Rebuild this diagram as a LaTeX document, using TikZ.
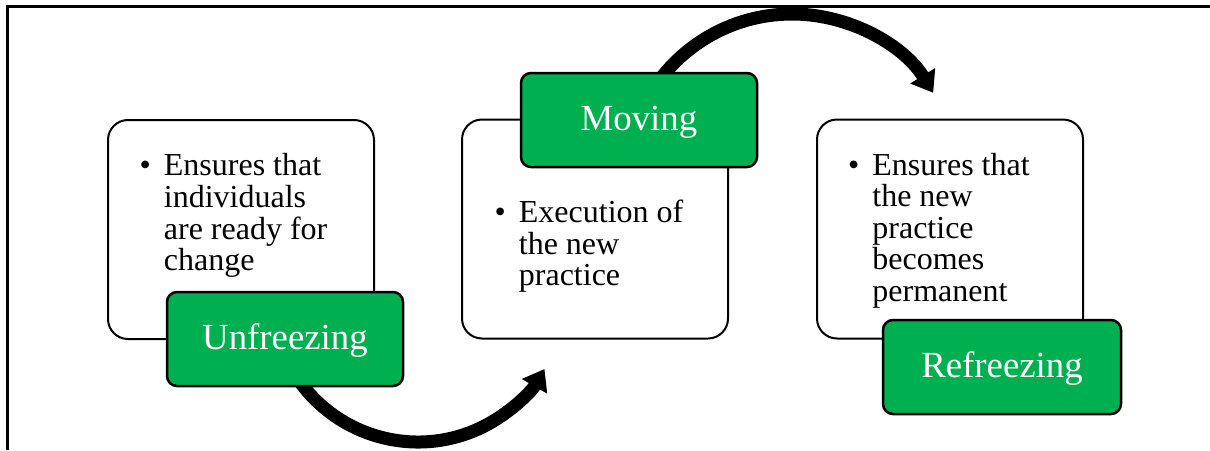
\documentclass[tikz,border=0pt]{standalone}
\usepackage{fontspec}
\setmainfont{Liberation Serif}
\usetikzlibrary{arrows.meta}
\definecolor{stagegreen}{RGB}{0,176,80}
\begin{document}
\begin{tikzpicture}[x=1pt,y=-1pt,
  frameline/.style={line width=2.5pt},
  flow/.style={line width=13pt, -{Triangle[width=28pt,length=20pt]}},
  notebox/.style={draw, line width=2pt, rounded corners=20pt, fill=white,
    minimum width=266pt, minimum height=219pt, inner sep=0pt},
  stagebox/.style={draw, line width=2.5pt, rounded corners=10pt, fill=stagegreen,
    minimum width=236pt, minimum height=94pt, inner sep=0pt, text=white,
    font=\fontsize{36.8}{40}\selectfont, text height=28pt, text depth=8pt},
  bullets/.style={anchor=base west, inner sep=0pt,
    font=\fontsize{32}{31.5}\selectfont}]

\useasboundingbox (0,0) rectangle (1210,450);

% open frame: top and left edges only
\draw[frameline] (7.5,450) -- (7.5,6.5) -- (1210,6.5);

% curved arrows between the stages
\coordinate (a1s) at (291.6,369);
\draw[flow] (a1s) arc[start angle=150, end angle=30, radius=146];
\coordinate (a2s) at (656,84.8);
\draw[flow] (a2s) arc[start angle=-145, end angle=-31.7, radius=166];

% description boxes
\node[notebox] (n1) at (241,229.5) {};
\node[notebox] (n2) at (595,229) {};
\node[notebox] (n3) at (950,229) {};

\node[bullets] (t1) at (139.5,175.7) {%
  \begin{tabular}[t]{@{}l@{\hspace{13pt}}l@{}}
  \textbullet & Ensures that\\ & individuals\\ & are ready for\\ & change
  \end{tabular}};
\node[bullets] (t2) at (494.5,222.7) {%
  \begin{tabular}[t]{@{}l@{\hspace{13pt}}l@{}}
  \textbullet & Execution of\\ & the new\\ & practice
  \end{tabular}};
\node[bullets] (t3) at (848,175) {%
  \begin{tabular}[t]{@{}l@{\hspace{13pt}}l@{}}
  \textbullet & Ensures that\\ & the new\\ & practice\\ & becomes\\ & permanent
  \end{tabular}};

% stage labels
\node[stagebox] (s1) at (285,339) {Unfreezing};
\node[stagebox] (s2) at (639,120) {Moving};
\node[stagebox, minimum width=238pt] (s3) at (1002,367) {Refreezing};
\end{tikzpicture}
\end{document}
